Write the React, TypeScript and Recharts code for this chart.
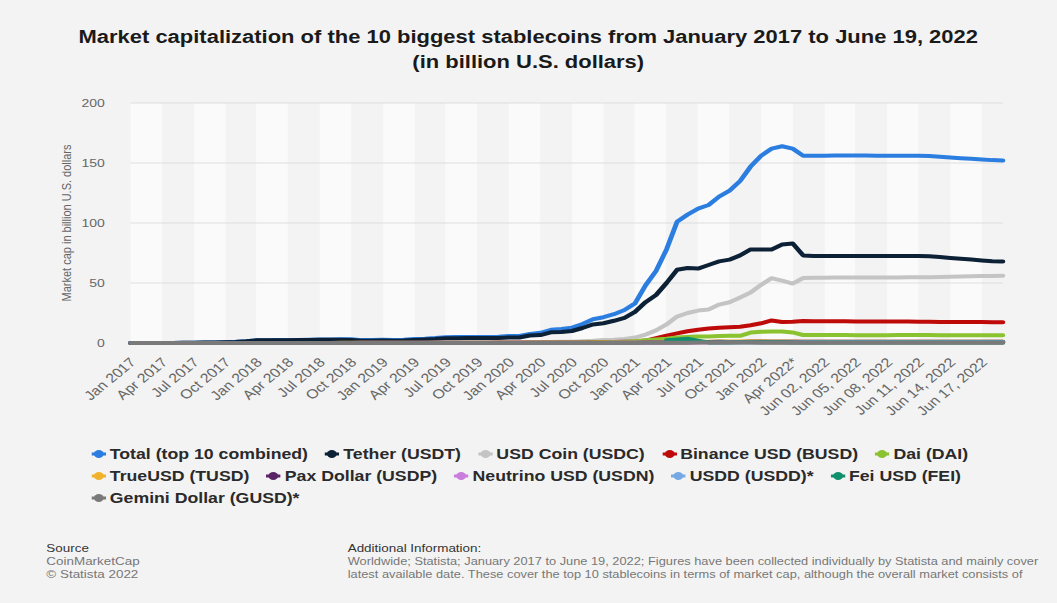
import { LineChart, Line, XAxis, YAxis, CartesianGrid, Legend } from 'recharts';

// the reference is a horizontally stretched screenshot, so the chart is drawn
// narrower and stretched back with scaleX
const STRETCH = 1.22;
const INNER_W = 866;
const H = 603;

const categories = [
  'Jan 2017', 'Feb 2017', 'Mar 2017', 'Apr 2017', 'May 2017', 'Jun 2017', 'Jul 2017', 'Aug 2017', 'Sep 2017', 'Oct 2017', 'Nov 2017', 'Dec 2017',
  'Jan 2018', 'Feb 2018', 'Mar 2018', 'Apr 2018', 'May 2018', 'Jun 2018', 'Jul 2018', 'Aug 2018', 'Sep 2018', 'Oct 2018', 'Nov 2018', 'Dec 2018',
  'Jan 2019', 'Feb 2019', 'Mar 2019', 'Apr 2019', 'May 2019', 'Jun 2019', 'Jul 2019', 'Aug 2019', 'Sep 2019', 'Oct 2019', 'Nov 2019', 'Dec 2019',
  'Jan 2020', 'Feb 2020', 'Mar 2020', 'Apr 2020', 'May 2020', 'Jun 2020', 'Jul 2020', 'Aug 2020', 'Sep 2020', 'Oct 2020', 'Nov 2020', 'Dec 2020',
  'Jan 2021', 'Feb 2021', 'Mar 2021', 'Apr 2021', 'May 2021', 'Jun 2021', 'Jul 2021', 'Aug 2021', 'Sep 2021', 'Oct 2021', 'Nov 2021', 'Dec 2021',
  'Jan 2022', 'Feb 2022', 'Mar 2022', 'Apr 2022*', 'May 2022',
  'Jun 01, 2022', 'Jun 02, 2022', 'Jun 03, 2022', 'Jun 04, 2022', 'Jun 05, 2022', 'Jun 06, 2022', 'Jun 07, 2022',
  'Jun 08, 2022', 'Jun 09, 2022', 'Jun 10, 2022', 'Jun 11, 2022', 'Jun 12, 2022', 'Jun 13, 2022', 'Jun 14, 2022',
  'Jun 15, 2022', 'Jun 16, 2022', 'Jun 17, 2022', 'Jun 18, 2022', 'Jun 19, 2022',
];

const total = [
  0.01, 0.01, 0.05, 0.06, 0.1, 0.13, 0.3, 0.4, 0.5, 0.7, 1.0, 1.5,
  2.3, 2.3, 2.4, 2.4, 2.6, 2.8, 2.9, 3.0, 3.1, 3.1, 2.4, 2.6,
  2.7, 2.6, 2.8, 3.3, 3.6, 4.1, 4.8, 4.9, 5.0, 5.0, 5.1, 5.2,
  5.8, 5.9, 7.6, 8.5, 11.0, 11.6, 12.8, 15.8, 19.8, 21.5, 24.0, 27.5,
  33, 48, 60, 78, 101, 107, 112, 115, 122, 127, 135, 147,
  156, 162, 164, 162, 156,
  156, 156, 156.2, 156.3, 156.3, 156.2, 156, 156, 156, 156.1, 156.1, 155.8, 155.3, 154.6, 154, 153.5, 153, 152.4, 152,
];

const tether = [
  0.01, 0.01, 0.05, 0.06, 0.1, 0.13, 0.3, 0.4, 0.45, 0.6, 0.9, 1.4,
  2.2, 2.2, 2.3, 2.3, 2.5, 2.6, 2.7, 2.8, 2.8, 2.6, 1.8, 1.9,
  2.0, 1.9, 2.0, 2.6, 2.9, 3.3, 4.0, 4.0, 4.1, 4.1, 4.1, 4.1,
  4.6, 4.6, 6.2, 6.6, 8.9, 9.2, 10.0, 12.5, 15.5, 16.5, 18.5, 21,
  26, 34, 40, 50, 61, 62.5, 62, 65, 68, 69.5, 73, 78,
  78, 78, 82, 83, 73,
  72.5, 72.5, 72.5, 72.5, 72.5, 72.5, 72.5, 72.5, 72.5, 72.5, 72.5, 72.2, 71.6, 70.9, 70.2, 69.5, 68.8, 68.2, 68,
];

const usdCoin = [
  null, null, null, null, null, null, null, null, null, null, null, null,
  null, null, null, null, null, null, null, null, null, 0.1, 0.25, 0.25,
  0.3, 0.25, 0.25, 0.25, 0.3, 0.35, 0.45, 0.45, 0.5, 0.45, 0.5, 0.5,
  0.5, 0.5, 0.7, 0.75, 0.75, 1.0, 1.1, 1.5, 1.8, 2.6, 2.8, 3.4,
  4.5, 7.0, 10.5, 15.5, 22, 25, 27, 28, 32, 34, 38, 42,
  48.5, 54, 52, 49.5, 54.2,
  54.3, 54.4, 54.5, 54.5, 54.6, 54.6, 54.6, 54.5, 54.6, 54.7, 54.7, 54.8, 55.0, 55.2, 55.4, 55.6, 55.8, 55.9, 56.0,
];

const binanceUsd = [
  null, null, null, null, null, null, null, null, null, null, null, null,
  null, null, null, null, null, null, null, null, null, null, null, null,
  null, null, null, null, null, null, null, null, 0.02, 0.05, 0.1, 0.15,
  0.18, 0.2, 0.2, 0.15, 0.15, 0.15, 0.2, 0.3, 0.5, 0.7, 0.9, 1.0,
  1.0, 2.0, 4.0, 6.0, 8.0, 9.8, 11, 12, 12.8, 13.2, 13.6, 14.8,
  16.4, 18.8, 17.5, 17.8, 18.3,
  18.2, 18.2, 18.1, 18.1, 18.0, 18.0, 18.0, 17.9, 17.9, 17.9, 17.8, 17.7, 17.6, 17.5, 17.5, 17.4, 17.4, 17.3, 17.3,
];

const dai = [
  null, null, null, null, null, null, null, null, null, null, null, 0.01,
  0.03, 0.04, 0.05, 0.05, 0.06, 0.07, 0.06, 0.05, 0.06, 0.07, 0.08, 0.08,
  0.08, 0.08, 0.09, 0.09, 0.1, 0.1, 0.09, 0.08, 0.09, 0.09, 0.09, 0.09,
  0.1, 0.1, 0.11, 0.11, 0.11, 0.12, 0.15, 0.3, 0.6, 0.9, 0.9, 1.1,
  1.5, 2.3, 3.0, 3.5, 4.6, 5.0, 5.5, 5.5, 5.8, 6.1, 6.0, 8.7,
  9.4, 9.6, 9.6, 8.8, 6.7,
  6.6, 6.6, 6.6, 6.6, 6.5, 6.5, 6.5, 6.5, 6.6, 6.6, 6.6, 6.6, 6.5, 6.5, 6.5, 6.5, 6.5, 6.5, 6.5,
];

const trueUsd = [
  null, null, null, null, null, null, null, null, null, null, null, null,
  null, null, 0.02, 0.05, 0.06, 0.07, 0.08, 0.1, 0.12, 0.15, 0.17, 0.16,
  0.18, 0.18, 0.2, 0.2, 0.2, 0.18, 0.18, 0.2, 0.18, 0.15, 0.13, 0.14,
  0.14, 0.14, 0.15, 0.16, 0.18, 0.2, 0.25, 0.3, 0.35, 0.4, 0.3, 0.3,
  0.3, 0.35, 0.4, 0.5, 0.5, 0.5, 0.6, 1.0, 1.3, 1.3, 1.3, 1.4,
  1.4, 1.3, 1.2, 1.2, 1.1,
  1.0, 1.0, 1.0, 1.0, 1.0, 1.0, 1.0, 1.0, 1.0, 1.0, 1.0, 1.0, 1.0, 1.0, 1.0, 1.0, 1.0, 1.0, 1.0,
];

const paxDollar = [
  null, null, null, null, null, null, null, null, null, null, null, null,
  null, null, null, null, null, null, null, null, null, 0.1, 0.15, 0.13,
  0.13, 0.14, 0.15, 0.16, 0.18, 0.2, 0.2, 0.23, 0.22, 0.24, 0.24, 0.24,
  0.24, 0.25, 0.24, 0.24, 0.24, 0.25, 0.25, 0.25, 0.25, 0.25, 0.25, 0.26,
  0.3, 0.4, 0.45, 0.5, 0.6, 0.7, 0.8, 0.9, 0.95, 0.9, 0.9, 0.95,
  0.95, 0.95, 0.95, 0.95, 0.95,
  0.95, 0.95, 0.95, 0.95, 0.95, 0.95, 0.95, 0.95, 0.95, 0.95, 0.95, 0.95, 0.95, 0.95, 0.95, 0.95, 0.95, 0.95, 0.95,
];

const neutrinoUsd = [
  null, null, null, null, null, null, null, null, null, null, null, null,
  null, null, null, null, null, null, null, null, null, null, null, null,
  null, null, null, null, null, null, null, null, null, null, null, null,
  null, null, null, 0.02, 0.03, 0.05, 0.06, 0.08, 0.1, 0.1, 0.12, 0.12,
  0.13, 0.15, 0.2, 0.3, 0.4, 0.45, 0.45, 0.5, 0.5, 0.6, 0.7, 0.8,
  0.7, 0.6, 0.6, 0.7, 0.8,
  0.8, 0.8, 0.8, 0.8, 0.8, 0.8, 0.8, 0.8, 0.8, 0.8, 0.8, 0.8, 0.8, 0.8, 0.8, 0.8, 0.8, 0.8, 0.8,
];

const usdd = [
  null, null, null, null, null, null, null, null, null, null, null, null,
  null, null, null, null, null, null, null, null, null, null, null, null,
  null, null, null, null, null, null, null, null, null, null, null, null,
  null, null, null, null, null, null, null, null, null, null, null, null,
  null, null, null, null, null, null, null, null, null, null, null, null,
  null, null, null, null, 0.4,
  0.6, 0.6, 0.6, 0.6, 0.6, 0.6, 0.6, 0.6, 0.6, 0.7, 0.7, 0.7, 0.7, 0.7, 0.7, 0.7, 0.7, 0.7, 0.7,
];

const feiUsd = [
  null, null, null, null, null, null, null, null, null, null, null, null,
  null, null, null, null, null, null, null, null, null, null, null, null,
  null, null, null, null, null, null, null, null, null, null, null, null,
  null, null, null, null, null, null, null, null, null, null, null, null,
  null, null, null, 2.2, 3.0, 3.5, 2.0, 0.5, 0.5, 0.5, 0.55, 0.6,
  0.6, 0.6, 0.55, 0.5, 0.5,
  0.45, 0.45, 0.45, 0.45, 0.45, 0.45, 0.45, 0.45, 0.45, 0.45, 0.45, 0.45, 0.45, 0.45, 0.45, 0.45, 0.45, 0.45, 0.45,
];

const geminiDollar = [
  0, 0, 0, 0, 0, 0, 0, 0, 0, 0, 0, 0,
  0, 0, 0, 0, 0, 0, 0, 0, 0, 0.05, 0.1, 0.08,
  0.07, 0.06, 0.05, 0.05, 0.06, 0.07, 0.06, 0.06, 0.05, 0.05, 0.04, 0.04,
  0.03, 0.03, 0.03, 0.04, 0.04, 0.05, 0.06, 0.07, 0.06, 0.05, 0.06, 0.07,
  0.1, 0.12, 0.15, 0.2, 0.25, 0.3, 0.35, 0.4, 0.4, 0.4, 0.4, 0.35,
  0.3, 0.25, 0.2, 0.2, 0.2,
  0.2, 0.2, 0.2, 0.2, 0.2, 0.2, 0.2, 0.2, 0.2, 0.2, 0.2, 0.2, 0.2, 0.2, 0.2, 0.2, 0.2, 0.2, 0.2,
];

const yTicks = [0, 50, 100, 150, 200];

const series = [
  { key: 'total', name: 'Total (top 10 combined)', color: '#2b7de0', values: total },
  { key: 'tether', name: 'Tether (USDT)', color: '#0c2036', values: tether },
  { key: 'usdc', name: 'USD Coin (USDC)', color: '#c4c4c4', values: usdCoin },
  { key: 'busd', name: 'Binance USD (BUSD)', color: '#bf0a0a', values: binanceUsd },
  { key: 'dai', name: 'Dai (DAI)', color: '#8ac32f', values: dai },
  { key: 'tusd', name: 'TrueUSD (TUSD)', color: '#f2b12a', values: trueUsd },
  { key: 'usdp', name: 'Pax Dollar (USDP)', color: '#5a2566', values: paxDollar },
  { key: 'usdn', name: 'Neutrino USD (USDN)', color: '#c97ddc', values: neutrinoUsd },
  { key: 'usdd', name: 'USDD (USDD)*', color: '#76a9e3', values: usdd },
  { key: 'fei', name: 'Fei USD (FEI)', color: '#0f8f6a', values: feiUsd },
  { key: 'gusd', name: 'Gemini Dollar (GUSD)*', color: '#7a7a7a', values: geminiDollar },
];

const data = categories.map((name, i) => {
  const row: Record<string, string | number | null> = { name };
  series.forEach((s) => {
    row[s.key] = s.values[i];
  });
  return row;
});

const XTick = ({ x, y, payload }: any) => (
  <g transform={`translate(${x + 2},${y + 17})`}>
    <text
      x={0}
      y={0}
      textAnchor="end"
      dominantBaseline="central"
      transform="rotate(-45)"
      fontSize={13}
      fill="#666"
    >
      {payload.value}
    </text>
  </g>
);

const YLabel = ({ viewBox }: any) => {
  const cx = 58;
  const cy = viewBox.y + viewBox.height / 2;
  return (
    <text
      x={cx}
      y={cy}
      transform={`rotate(-90 ${cx} ${cy})`}
      textAnchor="middle"
      fontSize={11}
      fill="#666"
    >
      Market cap in billion U.S. dollars
    </text>
  );
};

const renderLegend = () => (
  <div style={{ display: 'flex', flexWrap: 'wrap', alignItems: 'center' }}>
    {series.map((s) => (
      <div key={s.key} style={{ display: 'flex', alignItems: 'center', height: 22, marginRight: 14 }}>
        <svg width={12} height={10} style={{ marginRight: 3 }}>
          <line x1={0} y1={5} x2={12} y2={5} stroke={s.color} strokeWidth={3} />
          <circle cx={6} cy={5} r={4} fill={s.color} />
        </svg>
        <span style={{ fontSize: 14.5, fontWeight: 'bold', color: '#2a2a2a', whiteSpace: 'nowrap' }}>{s.name}</span>
      </div>
    ))}
  </div>
);

const StablecoinChart = () => {
  return (
    <div
      style={{
        position: 'absolute',
        left: 0,
        top: 0,
        width: 1057,
        height: H,
        background: '#f3f3f3',
        overflow: 'hidden',
        fontFamily: '"Liberation Sans", Arial, sans-serif',
      }}
    >
      <div style={{ position: 'relative', width: INNER_W, height: H, transform: `scaleX(${STRETCH})`, transformOrigin: '0 0' }}>
        <div style={{ position: 'absolute', left: 0, top: 0 }}>
          <LineChart width={INNER_W} height={H} data={data} margin={{ top: 103, right: 44, bottom: 230, left: 0 }}>
            <CartesianGrid horizontal={false} stroke="transparent" verticalFill={['#fafafa', '#f3f3f3']} />
            <CartesianGrid vertical={false} stroke="#dddddd" />
            <XAxis
              dataKey="name"
              interval={2}
              height={30}
              tick={<XTick />}
              tickLine={false}
              axisLine={false}
              tickSize={0}
              tickMargin={0}
            />
            <YAxis
              domain={[0, 200]}
              ticks={yTicks}
              width={107}
              axisLine={false}
              tickLine={false}
              tickSize={0}
              tickMargin={21}
              tick={{ fontSize: 11.5, fill: '#666' }}
              label={<YLabel />}
            />
            <Legend
              layout="horizontal"
              verticalAlign="middle"
              align="center"
              content={renderLegend}
              wrapperStyle={{ top: 443, left: 75, width: 820 }}
            />
            {series.map((s) => (
              <Line
                key={s.key}
                type="linear"
                dataKey={s.key}
                name={s.name}
                stroke={s.color}
                strokeWidth={4}
                strokeLinejoin="round"
                strokeLinecap="round"
                dot={false}
                activeDot={false}
                isAnimationActive={false}
              />
            ))}
          </LineChart>
        </div>

        <div
          style={{
            position: 'absolute',
            left: 0,
            top: 24.5,
            width: INNER_W,
            textAlign: 'center',
            fontSize: 18,
            lineHeight: '25px',
            fontWeight: 'bold',
            color: '#1a1a1a',
          }}
        >
          <div>Market capitalization of the 10 biggest stablecoins from January 2017 to June 19, 2022</div>
          <div>(in billion U.S. dollars)</div>
        </div>

        <div style={{ position: 'absolute', left: 38, top: 541.5, fontSize: 11, lineHeight: '13px', color: '#777' }}>
          <div style={{ color: '#333' }}>Source</div>
          <div>CoinMarketCap</div>
          <div>© Statista 2022</div>
        </div>

        <div
          style={{
            position: 'absolute',
            left: 285,
            top: 541.5,
            fontSize: 10.5,
            lineHeight: '13px',
            color: '#777',
            whiteSpace: 'nowrap',
          }}
        >
          <div style={{ color: '#333', fontSize: 11 }}>Additional Information:</div>
          <div>Worldwide; Statista; January 2017 to June 19, 2022; Figures have been collected individually by Statista and mainly cover</div>
          <div>latest available date. These cover the top 10 stablecoins in terms of market cap, although the overall market consists of</div>
        </div>
      </div>
    </div>
  );
};

export default StablecoinChart;
